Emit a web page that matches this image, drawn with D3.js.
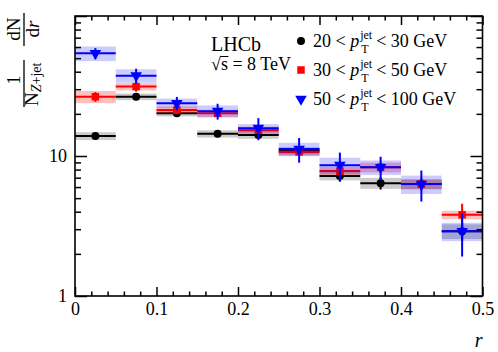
<!DOCTYPE html>
<html>
<head>
<meta charset="utf-8">
<script src="https://cdn.jsdelivr.net/npm/d3@7"></script>
<style>
body { margin: 0; background: #fff; }
text { font-family: "Liberation Serif", "Times New Roman", serif; fill: #000; }
</style>
</head>
<body>
<div id="container"></div>
<script>
// bins in r
const binEdges = [0, 0.05, 0.1, 0.15, 0.2, 0.25, 0.3, 0.35, 0.4, 0.45, 0.5]

// 1/N dN/dr
const pt20to30 = [13.9, 26.5, 20.2, 14.4, 14.1, 10.9, 7.2, 6.4, 6.3, 2.9]
const pt30to50 = [26.5, 31.3, 21.3, 20.2, 15.3, 10.7, 7.8, 8.3, 6.3, 3.8]
const pt50to100 = [54.1, 37.5, 23.8, 20.9, 15.8, 11.2, 8.6, 8.3, 6.3, 2.9]

// relative stat (error bar) and syst (band) uncertainties
const stat20to30 = [0.06, 0.04, 0.05, 0.05, 0.05, 0.05, 0.09, 0.10, 0.08, 0.15]
const stat30to50 = [0.08, 0.08, 0.06, 0.06, 0.05, 0.06, 0.07, 0.08, 0.10, 0.20]
const stat50to100 = [0.09, 0.12, 0.11, 0.13, 0.18, 0.20, 0.23, 0.19, 0.25, 0.34]
const syst20to30 = [0.065, 0.055, 0.05, 0.06, 0.06, 0.06, 0.07, 0.09, 0.08, 0.12]
const syst30to50 = [0.10, 0.06, 0.06, 0.06, 0.06, 0.06, 0.07, 0.08, 0.08, 0.07]
const syst50to100 = [0.12, 0.11, 0.08, 0.10, 0.07, 0.11, 0.13, 0.12, 0.15, 0.15]

const xTicks = [0, 0.1, 0.2, 0.3, 0.4, 0.5]
const yTicks = [1, 10, 100]

const series = [
    {lo: 20, hi: 30, values: pt20to30, stat: stat20to30, syst: syst20to30, color: "#000000", bandOpacity: 0.2, marker: "circle"},
    {lo: 30, hi: 50, values: pt30to50, stat: stat30to50, syst: syst30to50, color: "#ff0000", bandOpacity: 0.25, marker: "square"},
    {lo: 50, hi: 100, values: pt50to100, stat: stat50to100, syst: syst50to100, color: "#0000ff", bandOpacity: 0.2, marker: "triangle"}
]

let width = 498
let height = 352
let margin = {top: 16, right: 15.5, bottom: 56, left: 75}

let svg = d3.select("#container")
    .append("svg")
    .attr("width", width)
    .attr("height", height)

let x = d3.scaleLinear()
    .domain([0, 0.5])
    .range([margin.left, width - margin.right])

let y = d3.scaleLog()
    .domain([1, 100])
    .range([height - margin.bottom, margin.top])

function symbolFor(m) {
    if (m == "circle") return d3.symbol(d3.symbolCircle, 50)()
    if (m == "square") return d3.symbol(d3.symbolSquare, 56)()
    return d3.symbol(d3.symbolTriangle, 58)()
}
function markerTransform(m, cx, cy) {
    return m == "triangle" ? `translate(${cx},${cy}) rotate(180)` : `translate(${cx},${cy})`
}

// data
series.forEach(s => {
    let g = svg.append("g")
    let bins = s.values.map((v, i) => ({v: v, i: i, stat: s.stat[i], syst: s.syst[i]}))

    g.selectAll("rect.band")
        .data(bins)
        .join("rect")
        .attr("class", "band")
        .attr("x", d => x(binEdges[d.i]))
        .attr("width", d => x(binEdges[d.i + 1]) - x(binEdges[d.i]))
        .attr("y", d => y(d.v * (1 + d.syst)))
        .attr("height", d => y(d.v * (1 - d.syst)) - y(d.v * (1 + d.syst)))
        .attr("fill", s.color)
        .attr("fill-opacity", s.bandOpacity)

    g.selectAll("line.h")
        .data(bins)
        .join("line")
        .attr("class", "h")
        .attr("x1", d => x(binEdges[d.i]))
        .attr("x2", d => x(binEdges[d.i + 1]))
        .attr("y1", d => y(d.v))
        .attr("y2", d => y(d.v))
        .attr("stroke", s.color)
        .attr("stroke-width", 2)

    g.selectAll("line.v")
        .data(bins)
        .join("line")
        .attr("class", "v")
        .attr("x1", d => x((binEdges[d.i] + binEdges[d.i + 1]) / 2))
        .attr("x2", d => x((binEdges[d.i] + binEdges[d.i + 1]) / 2))
        .attr("y1", d => y(d.v * (1 + d.stat)))
        .attr("y2", d => y(d.v * (1 - d.stat)))
        .attr("stroke", s.color)
        .attr("stroke-width", 2)

    g.selectAll("path.m")
        .data(bins)
        .join("path")
        .attr("class", "m")
        .attr("d", symbolFor(s.marker))
        .attr("transform", d => markerTransform(s.marker, x((binEdges[d.i] + binEdges[d.i + 1]) / 2), y(d.v)))
        .attr("fill", s.color)
})

// axes, ROOT style ticks inside on all four sides
let xMinor = d3.range(0, 26).map(k => k * 0.02).filter(v => Math.abs(v * 10 - Math.round(v * 10)) > 1e-6)
let yMinor = []
;[1, 10].forEach(dec => { for (let k = 2; k <= 9; k++) yMinor.push(k * dec) })

function tickStyle(g) {
    g.select(".domain").remove()
    g.attr("font-family", null)
    g.selectAll(".tick line").attr("stroke", "#000").attr("stroke-width", 1.5)
    g.selectAll(".tick text").attr("font-size", 18)
}

svg.append("g")
    .attr("transform", `translate(0,${height - margin.bottom})`)
    .call(d3.axisBottom(x).tickValues(xTicks).tickSize(-9).tickPadding(6).tickFormat(d => d3.format("")(d)))
    .call(tickStyle)
svg.append("g")
    .attr("transform", `translate(0,${height - margin.bottom})`)
    .call(d3.axisBottom(x).tickValues(xMinor).tickSize(-4.5).tickFormat(""))
    .call(tickStyle)
svg.append("g")
    .attr("transform", `translate(0,${margin.top})`)
    .call(d3.axisTop(x).tickValues(xTicks).tickSize(-9).tickFormat(""))
    .call(tickStyle)
svg.append("g")
    .attr("transform", `translate(0,${margin.top})`)
    .call(d3.axisTop(x).tickValues(xMinor).tickSize(-4.5).tickFormat(""))
    .call(tickStyle)

svg.append("g")
    .attr("transform", `translate(${margin.left},0)`)
    .call(d3.axisLeft(y).tickValues(yTicks).tickSize(-12).tickPadding(8).tickFormat(d => d == 100 ? "" : d))
    .call(tickStyle)
svg.append("g")
    .attr("transform", `translate(${margin.left},0)`)
    .call(d3.axisLeft(y).tickValues(yMinor).tickSize(-6).tickFormat(""))
    .call(tickStyle)
svg.append("g")
    .attr("transform", `translate(${width - margin.right},0)`)
    .call(d3.axisRight(y).tickValues(yTicks).tickSize(-12).tickFormat(""))
    .call(tickStyle)
svg.append("g")
    .attr("transform", `translate(${width - margin.right},0)`)
    .call(d3.axisRight(y).tickValues(yMinor).tickSize(-6).tickFormat(""))
    .call(tickStyle)

// frame
svg.append("rect")
    .attr("x", margin.left)
    .attr("y", margin.top)
    .attr("width", width - margin.left - margin.right)
    .attr("height", height - margin.top - margin.bottom)
    .attr("fill", "none")
    .attr("stroke", "#000")
    .attr("stroke-width", 1.6)

// x title
svg.append("text")
    .attr("x", width - margin.right)
    .attr("y", 347)
    .attr("text-anchor", "end")
    .attr("font-size", 20)
    .attr("font-style", "italic")
    .text("r")

// y title: 1/N_{Z+jet} dN/dr, rotated
let yt = svg.append("g").attr("transform", "translate(24,60) rotate(-90)")
yt.append("line").attr("x1", -47).attr("x2", 0).attr("y1", 0).attr("y2", 0).attr("stroke", "#000").attr("stroke-width", 1.3)
yt.append("line").attr("x1", 14).attr("x2", 47).attr("y1", 0).attr("y2", 0).attr("stroke", "#000").attr("stroke-width", 1.3)
yt.append("text").attr("x", -20).attr("y", -4).attr("text-anchor", "middle").attr("font-size", 19).text("1")
let nt = yt.append("text").attr("x", -46).attr("y", 14).attr("font-size", 19)
nt.append("tspan").text("N")
nt.append("tspan").attr("dy", 3).attr("font-size", 14).attr("font-style", "italic").text("Z")
nt.append("tspan").attr("font-size", 14).text("+jet")
yt.append("text").attr("x", 31).attr("y", -4).attr("text-anchor", "middle").attr("font-size", 19).text("dN")
let dt = yt.append("text").attr("x", 31).attr("y", 15).attr("text-anchor", "middle").attr("font-size", 19)
dt.append("tspan").text("d")
dt.append("tspan").attr("font-style", "italic").text("r")

// LHCb label
svg.append("text").attr("x", 211).attr("y", 51).attr("font-size", 20).text("LHCb")
let rs = svg.append("text").attr("x", 211).attr("y", 70).attr("font-size", 18)
let rad = rs.append("tspan").text("\u221A")
rs.append("tspan").text("s = 8 TeV")
let radW = rad.node().getComputedTextLength()
svg.append("line")
    .attr("x1", 211 + radW - 0.5).attr("x2", 211 + radW + 7.5)
    .attr("y1", 56.5).attr("y2", 56.5)
    .attr("stroke", "#000").attr("stroke-width", 1)

// legend
let legend = svg.append("g")
let legendY = [47, 76, 105]
series.forEach((s, i) => {
    let by = legendY[i]
    legend.append("path")
        .attr("d", symbolFor(s.marker))
        .attr("transform", markerTransform(s.marker, 301, by - 6))
        .attr("fill", s.color)
    let t1 = legend.append("text").attr("x", 313).attr("y", by).attr("font-size", 18)
    t1.append("tspan").text(s.lo + " < ")
    t1.append("tspan").attr("font-style", "italic").text("p")
    let sx = 313 + t1.node().getComputedTextLength() + 1
    let sup = legend.append("text").attr("x", sx).attr("y", by - 8).attr("font-size", 12).text("jet")
    legend.append("text").attr("x", sx + 1).attr("y", by + 6).attr("font-size", 12).text("T")
    let sw = sup.node().getComputedTextLength()
    legend.append("text").attr("x", sx + sw + 4).attr("y", by).attr("font-size", 18).text("< " + s.hi + " GeV")
})
</script>
</body>
</html>
